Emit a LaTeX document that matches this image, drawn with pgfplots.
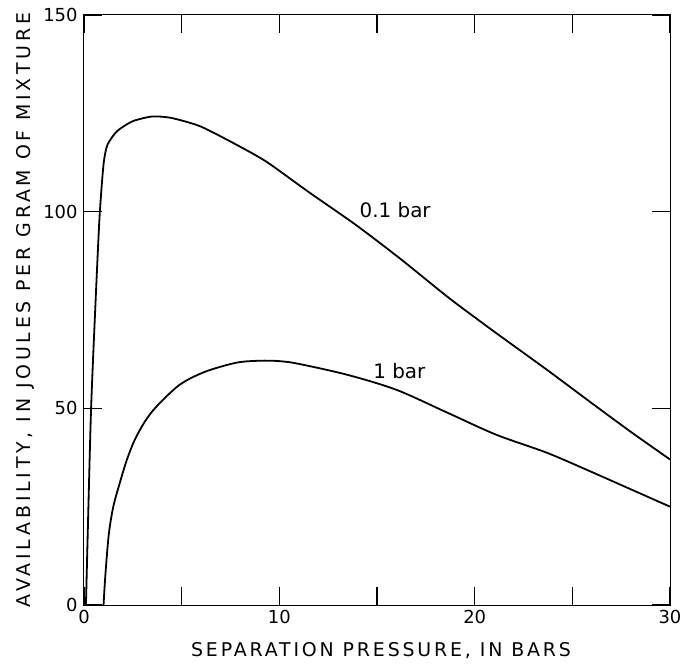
\documentclass[border=0pt]{standalone}
\usepackage{pgfplots}
\pgfplotsset{compat=1.18}
\usepackage{fontspec}
\setmainfont{DejaVu Sans}
\newfontfamily\xlabfont[LetterSpace=15]{DejaVu Sans}
\newfontfamily\ylabfont[LetterSpace=20]{DejaVu Sans}
\begin{document}
\begin{tikzpicture}
\useasboundingbox (-84bp,-59bp) rectangle (607bp,605bp);
\begin{axis}[
  scale only axis,
  width=586bp, height=590bp,
  xmin=0, xmax=30, ymin=0, ymax=150,
  xtick={0,5,10,15,20,25,30},
  xticklabels={0,,10,,20,,30},
  ytick={0,50,100,150},
  tick align=inside,
  major tick length=18bp,
  xtick pos=both, ytick pos=both,
  axis line style={line width=1bp},
  tick style={line width=1.4bp, black},
  /pgf/number format/assume math mode=true,
  ticklabel style={font=\fontsize{18}{20}\selectfont},
  xticklabel style={yshift=-2bp},
  yticklabel style={xshift=-3bp},
  xlabel={SEPARATION PRESSURE, IN BARS},
  ylabel={AVAILABILITY, IN JOULES PER GRAM OF MIXTURE},
  xlabel style={font=\xlabfont\fontsize{19}{22}\selectfont, at={(axis description cs:0.5,0)}, anchor=center, yshift=-46bp, xshift=4bp},
  ylabel style={font=\ylabfont\fontsize{19}{22}\selectfont, at={(axis description cs:-0.1007,0.5)}, anchor=center},
  clip=false,
]
\addplot[black, line width=1.8bp, smooth, tension=0.4] coordinates {
(0.1,0) (0.35,48) (0.6,78) (0.8,99) (1.0,112) (1.2,117) (1.7,120.5) (2.5,123) (3.5,124.2) (4.5,123.8) (6,121.6) (8,116.5) (9.4,112.5) (11.5,105) (13.9,96.7) (16.2,88) (18.7,78) (21,69.5) (23.7,59.8) (26,51.3) (28,44) (30,37)
};
\addplot[black, line width=1.8bp, smooth, tension=0.5] coordinates {
(1.0,0) (1.1,8) (1.27,18) (1.5,25) (1.83,31) (2.2,37) (2.6,42) (3.1,46.5) (3.7,50.4) (4.9,56) (6.2,59.3) (7.8,61.6) (9,62.1) (10,62) (11,61.3) (13.5,58.5) (16,54.7) (18.6,48.9) (21.1,43.3) (23.7,38.7) (26,33.8) (28,29.4) (30,25)
};
\node[anchor=west, font=\fontsize{20}{22}\selectfont, inner sep=0] at (axis cs:14.1,100.3) {0.1 bar};
\node[anchor=west, font=\fontsize{20}{22}\selectfont, inner sep=0] at (axis cs:14.8,59.5) {1 bar};
\end{axis}
\end{tikzpicture}
\end{document}
